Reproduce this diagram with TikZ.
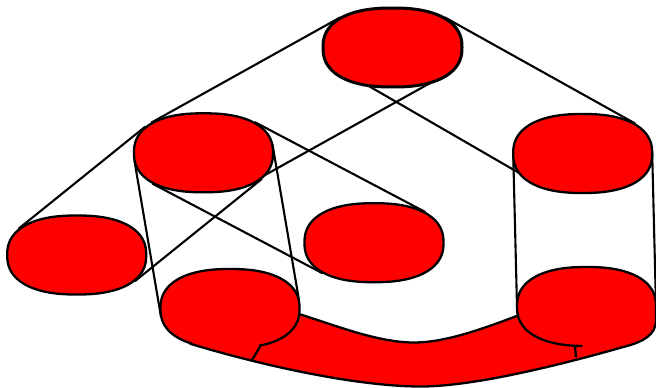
\documentclass[tikz,border=0pt]{standalone}
\usetikzlibrary{calc}
\newcommand{\blobplot}[2]{plot[domain=#1:#2,samples=150] ({69.5*sign(cos(\x))*(abs(cos(\x))+0.00001)^0.85},{39.5*sign(sin(\x))*(abs(sin(\x))+0.00001)^0.85})}
\begin{document}
\begin{tikzpicture}[x=1pt,y=-1pt,
  tube/.style={line width=2.1pt,draw=black},
  blobline/.style={line width=2.3pt,draw=black,line join=round},
  blobfill/.style={fill=red},
  bandedge/.style={line width=2.3pt,draw=black,line cap=round,line join=round},
]
\useasboundingbox (0,0) rectangle (656,388);
% blob centres
\coordinate (top) at (392.5,47.5);
\coordinate (B) at (203.5,152.8);
\coordinate (C) at (582.7,153.5);
\coordinate (D) at (76.7,255);
\coordinate (E) at (374,242.7);
\coordinate (F) at (230,308.5);
\coordinate (G) at (586.5,306.5);
% straight tubes (tangent lines)
\draw[tube] ($(top)+(-52.3,-30.1)$) -- ($(B)+(-52.3,-30.1)$);
\draw[tube] ($(top)+(52.3,27.4)$) -- ($(B)+(52.3,27.4)$);
\draw[tube] ($(B)+(-58.2,-26.2)$) -- ($(D)+(-58.2,-26.2)$);
\draw[tube] ($(B)+(58.2,26.2)$) -- ($(D)+(58.2,26.2)$);
\draw[tube] ($(B)+(51.3,-30.7)$) -- ($(E)+(51.3,-30.7)$);
\draw[tube] ($(B)+(-51.3,30.7)$) -- ($(E)+(-51.3,30.7)$);
\draw[tube] ($(B)+(69,-8.3)$) -- ($(F)+(69,-8.3)$);
\draw[tube] ($(B)+(-69,8.3)$) -- ($(F)+(-69,8.3)$);
\draw[tube] ($(top)+(52.3,-30.1)$) -- ($(C)+(52.3,-30.1)$);
\draw[tube] ($(top)+(-52.3,22)$) -- ($(C)+(-52.3,26)$);
\draw[tube] ($(C)+(-69.5,0)$) -- ($(G)+(-69.5,0)$);
\draw[tube] ($(C)+(69.5,0)$) -- ($(G)+(69.5,0)$);
% blobs
\path[blobline,blobfill,line width=3pt,shift={(top)}] \blobplot{0}{360} -- cycle;
\path[blobline,blobfill,shift={(B)}] \blobplot{0}{360} -- cycle;
\path[blobline,blobfill,shift={(C)}] \blobplot{0}{360} -- cycle;
\path[blobline,blobfill,shift={(D)}] \blobplot{0}{360} -- cycle;
\path[blobline,blobfill,shift={(E)}] \blobplot{0}{360} -- cycle;
% curved band F--G
\fill[red] (299,314) .. controls (340,327) and (380,343) .. (416,342.5)
  .. controls (445,342) and (480,330) .. (518,315.5)
  -- (G) -- (656,307) -- (656,320)
  .. controls (656,335) and (643,341.5) .. (627,346)
  .. controls (600,353.5) and (485,386.8) .. (420,386.5)
  .. controls (350,386.2) and (250,362) .. (190.1,343.7)
  -- (F) -- cycle;
\fill[red,shift={(F)}] \blobplot{0}{360} -- cycle;
\fill[red,shift={(G)}] \blobplot{0}{360} -- cycle;
\draw[bandedge] (299,314) .. controls (340,327) and (380,343) .. (416,342.5)
  .. controls (445,342) and (480,330) .. (518,315.5);
\draw[bandedge] (190.1,343.7) .. controls (250,362) and (350,386.2) .. (420,386.5)
  .. controls (485,386.8) and (600,353.5) .. (627,346)
  .. controls (643,341.5) and (656,335) .. (656,320) -- (656,307);
\draw[blobline,shift={(F)}] \blobplot{-240}{69};
\draw[blobline,shift={(G)}] \blobplot{92}{360};
\draw[blobline] ($(F)+(30,38.2)$) -- ($(F)+(22,51.5)$);
\draw[blobline] ($(G)+(-11.5,39.3)$) -- ($(G)+(-10.5,50.8)$);
\end{tikzpicture}
\end{document}
